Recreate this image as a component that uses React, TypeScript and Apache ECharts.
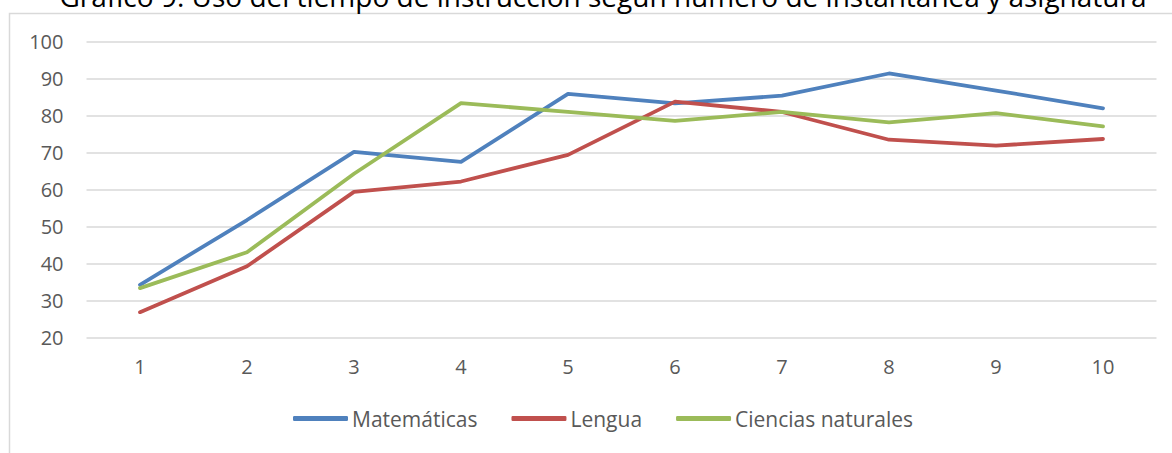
import React, { useEffect, useRef } from "react";
import * as echarts from "echarts";

const titleText = "Gráfico 9. Uso del tiempo de instrucción según número de instantánea y asignatura";
const categories = ["1", "2", "3", "4", "5", "6", "7", "8", "9", "10"];
const seriesNames = ["Matemáticas", "Lengua", "Ciencias naturales"];
const matematicas = [34.2, 51.7, 70.1, 67.4, 85.8, 83.2, 85.3, 91.3, 86.7, 81.9];
const lengua = [26.8, 39.2, 59.3, 62.1, 69.3, 83.7, 80.9, 73.4, 71.8, 73.6];
const ciencias = [33.3, 43.0, 64.2, 83.3, 80.9, 78.5, 80.9, 78.1, 80.6, 77.0];
const colors = ["#4f81bd", "#c0504d", "#9bbb59"];

const FONT = "'Open Sans', 'Noto Sans', sans-serif";

export default function App() {
  const ref = useRef<HTMLDivElement>(null);
  useEffect(() => {
    if (!ref.current) return;
    const chart = echarts.init(ref.current, undefined, { renderer: "svg" });
    const data = [matematicas, lengua, ciencias];
    chart.setOption({
      animation: false,
      backgroundColor: "#ffffff",
      color: colors,
      textStyle: { fontFamily: FONT },
      title: {
        text: titleText,
        left: 598,
        top: -23,
        textAlign: "center",
        textStyle: { fontFamily: FONT, fontSize: 28, fontWeight: "normal", color: "#000000" },
      },
      graphic: [
        {
          type: "rect",
          shape: { x: 9.5, y: 13.5, width: 1200, height: 500 },
          style: { fill: "none", stroke: "#d9d9d9", lineWidth: 1.5 },
          silent: true,
          z: -1,
        },
      ],
      legend: {
        left: 288,
        top: 403,
        itemWidth: 55,
        itemHeight: 5,
        itemGap: 34,
        icon: "roundRect",
        textStyle: { fontFamily: FONT, fontSize: 21, color: "#595959", padding: [0, 0, 0, -1] },
        data: seriesNames,
      },
      grid: { left: 86.5, right: 15.5, top: 41.3, bottom: 115.7, containLabel: false },
      xAxis: {
        type: "category",
        data: categories,
        boundaryGap: true,
        axisLine: { show: false },
        axisTick: { show: false },
        axisLabel: { color: "#595959", fontSize: 20, margin: 19, fontFamily: FONT },
      },
      yAxis: {
        type: "value",
        min: 20,
        max: 100,
        interval: 10,
        axisLine: { show: false },
        axisTick: { show: false },
        axisLabel: { color: "#595959", fontSize: 20, margin: 23, fontFamily: FONT },
        splitLine: { lineStyle: { color: "#d9d9d9", width: 1.5 } },
      },
      series: seriesNames.map((name, i) => ({
        name,
        type: "line",
        data: data[i],
        symbol: "none",
        lineStyle: { width: 3.8, color: colors[i], cap: "round", join: "round" },
        itemStyle: { color: colors[i] },
      })),
    });
    return () => chart.dispose();
  }, []);
  return (
    <div
      ref={ref}
      style={{ position: "fixed", left: 0, top: 0, width: 1172, height: 453 }}
    />
  );
}
